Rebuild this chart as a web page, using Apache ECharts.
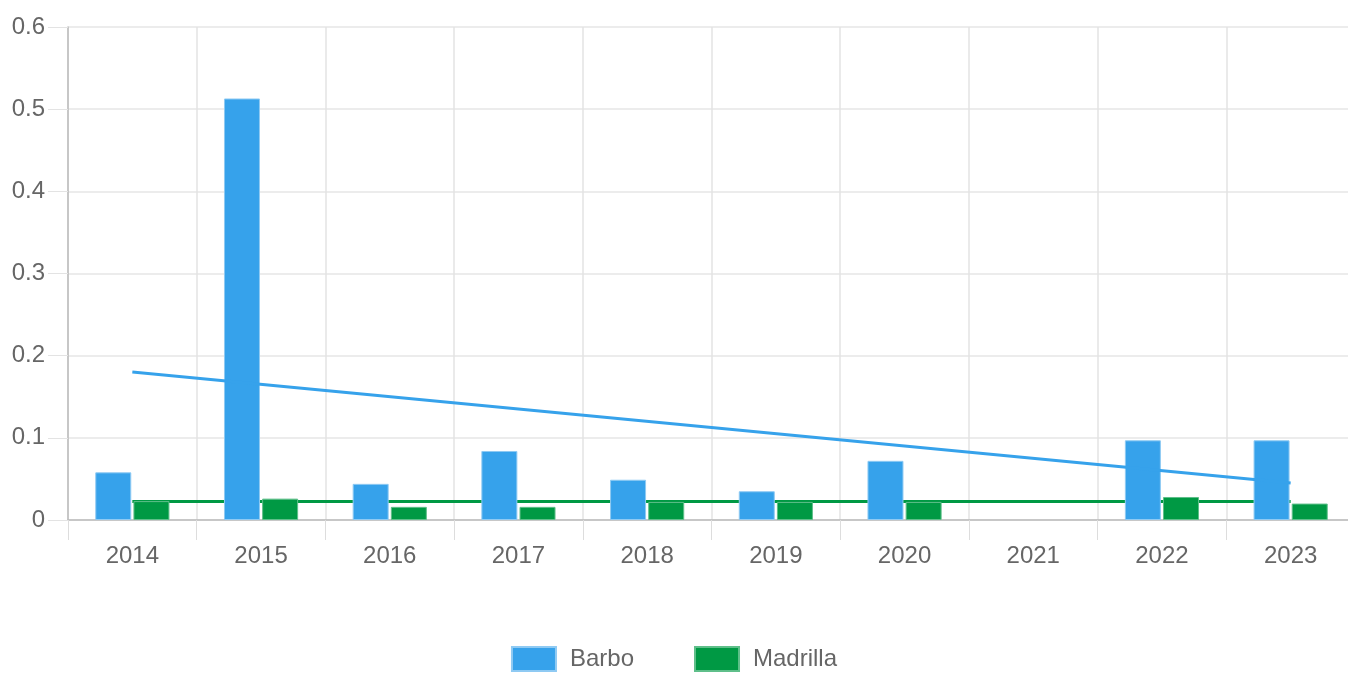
<!DOCTYPE html>
<html>
<head>
<meta charset="utf-8">
<script src="https://cdn.jsdelivr.net/npm/echarts@6/dist/echarts.min.js"></script>
<style>
  html, body { margin: 0; padding: 0; background: #fff; }
  #chart { width: 1348px; height: 673px; }
</style>
</head>
<body>
<div id="chart"></div>
<script>
// datos
var years = ['2014', '2015', '2016', '2017', '2018', '2019', '2020', '2021', '2022', '2023'];
var barbo = [0.058, 0.513, 0.044, 0.084, 0.049, 0.035, 0.072, null, 0.097, 0.097];
var madrilla = [0.023, 0.026, 0.016, 0.016, 0.022, 0.022, 0.022, null, 0.028, 0.020];
// líneas de tendencia (inicio y fin)
var trendBarbo = [[0, 0.180], [9, 0.045]];
var trendMadrilla = [[0, 0.0225], [9, 0.0225]];

var azul = '#36A2EB';
var verde = '#009944';

var myChart = echarts.init(document.getElementById('chart'));

var option = {
    animation: false,
    textStyle: { fontFamily: 'Liberation Sans, Arial, sans-serif' },
    grid: { left: 68, top: 27, width: 1287, bottom: 153, outerBoundsMode: 'none', containLabel: false },
    legend: {
        bottom: -4,
        left: 'center',
        data: ['Barbo', 'Madrilla'],
        icon: 'rect',
        itemWidth: 44,
        itemHeight: 24,
        itemGap: 60,
        textStyle: { fontSize: 24, color: '#666', padding: [0, 0, 0, 9] }
    },
    xAxis: {
        type: 'category',
        data: years,
        axisLine: { lineStyle: { color: '#bbb', width: 1.5 } },
        axisTick: { show: true, length: 20, lineStyle: { color: '#ddd' } },
        axisLabel: { fontSize: 24, color: '#666', margin: 24 },
        splitLine: { show: true, lineStyle: { color: '#e3e3e3', width: 1.5 } }
    },
    yAxis: {
        type: 'value',
        min: 0,
        max: 0.6,
        interval: 0.1,
        axisLine: { show: true, lineStyle: { color: '#bbb', width: 1.5 } },
        axisTick: { show: true, length: 20, lineStyle: { color: '#e3e3e3' } },
        axisLabel: {
            fontSize: 24, color: '#666', margin: 23,
            formatter: function (v) { return v === 0 ? '0' : String(+v.toFixed(1)); }
        },
        splitLine: { lineStyle: { color: '#e6e6e6', width: 1.5 } }
    },
    series: [
        {
            name: 'Barbo',
            type: 'bar',
            data: barbo,
            barWidth: 36,
            barGap: '6%',
            itemStyle: { color: azul, borderColor: '#8fcaf3', borderWidth: 1 }
        },
        {
            name: 'Madrilla',
            type: 'bar',
            data: madrilla,
            barWidth: 36,
            barGap: '6%',
            itemStyle: { color: verde, borderColor: '#5fbf8a', borderWidth: 1 }
        },
        {
            name: 'Tendencia Barbo',
            type: 'line',
            data: trendBarbo,
            symbol: 'none',
            lineStyle: { color: azul, width: 3 },
            z: 3
        },
        {
            name: 'Tendencia Madrilla',
            type: 'line',
            data: trendMadrilla,
            symbol: 'none',
            lineStyle: { color: verde, width: 3 },
            z: 1
        }
    ]
};

myChart.setOption(option);
</script>
</body>
</html>
